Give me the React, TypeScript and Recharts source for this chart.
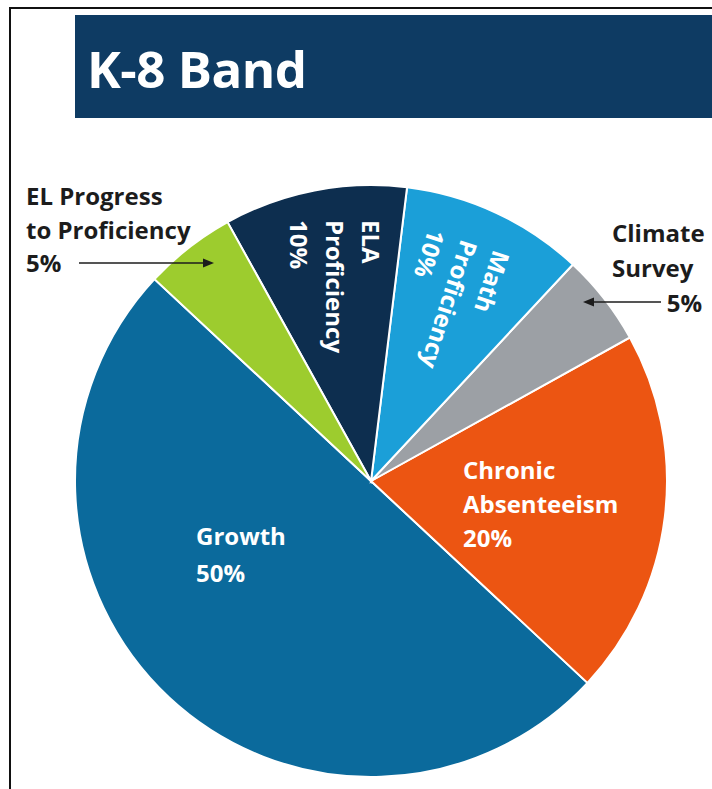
// K-8 Band — weighting of accountability indicators, drawn as one pie.
// Slices run counter-clockwise from the EL/Growth boundary (upper left).

import { PieChart, Pie, Cell } from 'recharts'

const categories = [
  'Growth',
  'Chronic Absenteeism',
  'Climate Survey',
  'Math Proficiency',
  'ELA Proficiency',
  'EL Progress to Proficiency',
]
const weights = [50, 20, 5, 10, 10, 5]
const labelLines = [
  ['Growth', '50%'],
  ['Chronic', 'Absenteeism', '20%'],
  ['Climate', 'Survey', '5%'],
  ['Math', 'Proficiency', '10%'],
  ['ELA', 'Proficiency', '10%'],
  ['EL Progress', 'to Proficiency', '5%'],
]

const colors = ['#0b6a9c', '#ec5512', '#9ca0a5', '#1b9fd8', '#0d2e4f', '#9dcc2e']

const data = categories.map((name, i) => ({ name, value: weights[i] }))

// label placement, offsets from the pie centre
type LabelLayout = {
  dx: number
  dy: number
  rotate: number
  step: number
  color: string
  arrow?: [number, number, number, number]
  lastAnchorEnd?: number
}

const layouts: LabelLayout[] = [
  { dx: -175, dy: 54, rotate: 0, step: 37, color: '#fff' },
  { dx: 92, dy: -12, rotate: 0, step: 34, color: '#fff' },
  {
    dx: 241, dy: -249, rotate: 0, step: 35, color: '#1c1c1c',
    arrow: [290, -179, 212, -179], lastAnchorEnd: 331,
  },
  { dx: 132, dy: -229, rotate: 108, step: 34, color: '#fff' },
  { dx: 1, dy: -261, rotate: 90, step: 36, color: '#fff' },
  {
    dx: -345, dy: -286, rotate: 0, step: 33.5, color: '#1c1c1c',
    arrow: [-292, -218, -157, -218],
  },
]

const FONT = '"Open Sans", "DejaVu Sans", sans-serif'

function renderLabel(props: any) {
  const { cx, cy, index } = props
  const l = layouts[index]
  const lines = labelLines[index]
  const x = cx + l.dx
  const y = cy + l.dy
  return (
    <g key={`lbl-${index}`}>
      <text
        x={x}
        y={y}
        transform={l.rotate ? `rotate(${l.rotate} ${x} ${y})` : undefined}
        fill={l.color}
        fontFamily={FONT}
        fontWeight={700}
        fontSize={24}
        dominantBaseline="central"
        textAnchor="start"
      >
        {lines.map((t, i) => {
          const isLastRight = l.lastAnchorEnd !== undefined && i === lines.length - 1
          if (isLastRight) {
            return (
              <tspan key={i} x={cx + l.lastAnchorEnd!} y={y + i * l.step} textAnchor="end">
                {t}
              </tspan>
            )
          }
          return (
            <tspan key={i} x={x} y={y + i * l.step}>
              {t}
            </tspan>
          )
        })}
      </text>
      {l.arrow && (() => {
        const [x1, y1, x2, y2] = l.arrow
        const ax1 = cx + x1
        const ax2 = cx + x2
        const ay = cy + y1
        const dir = ax2 > ax1 ? 1 : -1
        return (
          <g>
            <line x1={ax1} y1={ay} x2={ax2 - dir * 8} y2={cy + y2} stroke="#1c1c1c" strokeWidth={1.6} />
            <polygon
              points={`${ax2},${ay} ${ax2 - dir * 11},${ay - 4.5} ${ax2 - dir * 11},${ay + 4.5}`}
              fill="#1c1c1c"
            />
          </g>
        )
      })()}
    </g>
  )
}

export default function App() {
  return (
    <div
      style={{
        position: 'absolute',
        left: 0,
        top: 0,
        width: 712,
        height: 789,
        background: '#fff',
        overflow: 'hidden',
      }}
    >
      <div
        style={{
          position: 'absolute',
          left: 9,
          top: 7,
          right: 0,
          bottom: 0,
          borderTop: '2px solid #111',
          borderLeft: '2px solid #111',
        }}
      />
      <div
        style={{
          position: 'absolute',
          left: 75,
          top: 15,
          width: 637,
          height: 103,
          background: '#0e3b63',
        }}
      >
        <div
          style={{
            position: 'absolute',
            left: 12,
            top: 23,
            color: '#fff',
            fontFamily: FONT,
            fontWeight: 700,
            fontSize: 51,
            lineHeight: '60px',
            letterSpacing: -0.5,
          }}
        >
          K-8 Band
        </div>
      </div>
      <div style={{ position: 'absolute', left: 0, top: 0 }}>
        <PieChart width={712} height={789} margin={{ top: 0, right: 0, bottom: 0, left: 0 }}>
          <Pie
            data={data}
            dataKey="value"
            nameKey="name"
            cx={371}
            cy={481}
            outerRadius={296}
            startAngle={137}
            endAngle={497}
            stroke="#ffffff"
            strokeWidth={2}
            label={renderLabel}
            labelLine={false}
            isAnimationActive={false}
          >
            {data.map((d, i) => (
              <Cell key={d.name} fill={colors[i]} />
            ))}
          </Pie>
        </PieChart>
      </div>
    </div>
  )
}
